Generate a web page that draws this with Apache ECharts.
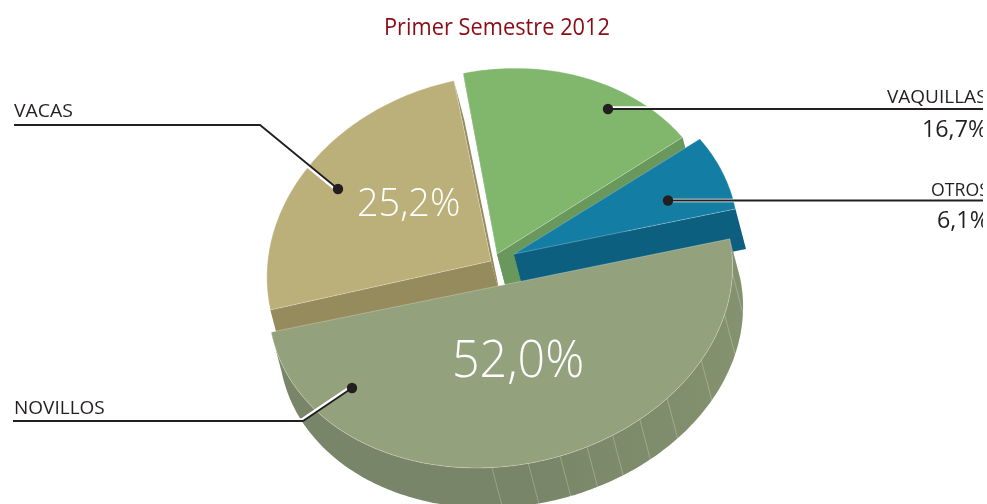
<!DOCTYPE html>
<html>
<head>
<meta charset="utf-8">
<title>Primer Semestre 2012</title>
<script src="https://cdn.jsdelivr.net/npm/echarts@6/dist/echarts.min.js"></script>
<style>
  html, body { margin: 0; padding: 0; background: #fff; }
  #chart { width: 983px; height: 504px; }
</style>
</head>
<body>
<div id="chart"></div>
<script>
const chartTitle = 'Primer Semestre 2012';
const categories = ['NOVILLOS', 'VACAS', 'VAQUILLAS', 'OTROS'];
// printed percentages
const percentages = [52.0, 25.2, 16.7, 6.1];
// share of the circle each slice really takes up in the picture: the source
// draws Novillos as an exact half, so the printed numbers would not fit it
const drawnShares = [50.0, 25.2, 17.9, 6.9];

const fmt = v => v.toFixed(1).replace('.', ',') + '%';

const topColors = ['#93a27c', '#bcb07a', '#81b66d', '#147da4'];
const wallColors = ['#7d8b6c', '#958b5d', '#68985b', '#0d5f7f'];
const apex = [[500.5, 285.5], [491, 261], [497, 254], [514, 254]];
const radii = [[234, 180], [226, 184], [226, 184], [226, 180]];
const tilts = [-11.5, -12.5, -11.5, -11.5];
const layers = [6, 2, 2, 4];
const depth = [10.5, 40];
// where the thin facet lines sit on the big slice's wall, in degrees
const facets = [11, 24, 39, 53, 62, 70, 77, 84, 92, 101];

function rim(i, deg) {
  const t = deg * Math.PI / 180;
  const tilt = tilts[i] * Math.PI / 180;
  const x = radii[i][0] * Math.cos(t);
  const y = radii[i][1] * Math.sin(t);
  return [
    apex[i][0] + x * Math.cos(tilt) - y * Math.sin(tilt),
    apex[i][1] + x * Math.sin(tilt) + y * Math.cos(tilt)
  ];
}

function shift(p) {
  return [p[0] + depth[0], p[1] + depth[1]];
}

function arc(i, from, to) {
  const pts = [];
  const steps = Math.ceil(to - from);
  for (let k = 0; k <= steps; k++) {
    pts.push(rim(i, from + (to - from) * k / steps));
  }
  return pts;
}

function renderSlice(params, api) {
  const i = params.dataIndex;
  let from = 0;
  for (let k = 0; k < i; k++) from += drawnShares[k] * 3.6;
  const to = from + api.value(0) * 3.6;
  const children = [];
  const edge = arc(i, from, to);
  const z = layers[i];

  if (i === 0) {
    // outer wall of the big slice with its facet lines
    children.push({
      type: 'polygon',
      z2: z,
      shape: { points: edge.concat(edge.map(shift).reverse()) },
      style: {
        fill: new echarts.graphic.LinearGradient(0, 0, 1, 0, [
          { offset: 0, color: '#788568' },
          { offset: 0.55, color: '#788568' },
          { offset: 1, color: '#84926f' }
        ])
      }
    });
    facets.forEach(d => {
      const p = rim(i, d);
      const q = shift(p);
      children.push({
        type: 'line',
        z2: z,
        shape: { x1: p[0], y1: p[1], x2: q[0], y2: q[1] },
        style: { stroke: 'rgba(255,255,255,0.3)', lineWidth: 0.8 }
      });
    });
  } else {
    // cut faces seen along the radial edges
    [from, to].forEach(d => {
      const p = rim(i, d);
      children.push({
        type: 'polygon',
        z2: i === 2 ? z - 1 : z,
        shape: { points: [apex[i], p, shift(p), shift(apex[i])] },
        style: { fill: wallColors[i] }
      });
    });
  }

  children.push({
    type: 'polygon',
    z2: z + 1,
    shape: { points: [apex[i]].concat(edge) },
    style: { fill: topColors[i], stroke: 'rgba(255,255,255,0.45)', lineWidth: 0.6 }
  });
  return { type: 'group', children };
}

// leader lines: polyline from the label to the dot, white halo offset
const leaders = [
  { pts: [[13, 421], [303, 421], [352, 388]], halo: [-1, -1] },
  { pts: [[14, 125], [260, 125], [338, 189]], halo: [-1, 1] },
  { pts: [[983, 109], [608, 109]], halo: [0, -1] },
  { pts: [[983, 200.5], [668, 200.5]], halo: [0, 0] }
];

const labelFont = '"Open Sans", "Noto Sans", sans-serif';
const ink = '#231f20';

function text(str, x, y, size, color, squeeze, weight) {
  return {
    type: 'text',
    z: 20,
    silent: true,
    x, y,
    scaleX: squeeze || 1,
    style: {
      text: str,
      fill: color, font: (weight || 400) + ' ' + size + 'px ' + labelFont,
      textAlign: 'left', textVerticalAlign: 'middle'
    }
  };
}

const graphics = [];
leaders.forEach(l => {
  graphics.push({
    type: 'polyline', z: 10, silent: true,
    shape: { points: l.pts.map(p => [p[0] + l.halo[0], p[1] + l.halo[1]]) },
    style: { stroke: '#fff', lineWidth: 3.6, fill: null }
  });
});
leaders.forEach(l => {
  const end = l.pts[l.pts.length - 1];
  graphics.push({
    type: 'polyline', z: 11, silent: true,
    shape: { points: l.pts },
    style: { stroke: ink, lineWidth: 1.8, fill: null }
  });
  graphics.push({
    type: 'circle', z: 12, silent: true,
    shape: { cx: end[0], cy: end[1], r: 5.2 },
    style: { fill: ink }
  });
});

graphics.push(text(chartTitle, 384, 28, 24.5, '#8b0c14', 0.89));
graphics.push(text(categories[1], 14, 112, 19, ink, 1.02));
graphics.push(text(categories[0], 14, 409, 19, ink));
graphics.push(text(categories[2], 887, 98, 19, ink));
graphics.push(text(categories[3], 931, 191, 19, ink, 0.93));
graphics.push(text(fmt(percentages[2]), 922, 130, 24, ink, 0.97));
graphics.push(text(fmt(percentages[3]), 937, 221, 24, ink, 0.97));
graphics.push(text(fmt(percentages[1]), 357, 205, 39, '#fff', 0.97, 300));
graphics.push(text(fmt(percentages[0]), 452, 362, 52, '#fff', 0.93, 300));

const chart = echarts.init(document.getElementById('chart'), null, { renderer: 'canvas' });
chart.setOption({
  animation: false,
  backgroundColor: '#fff',
  graphic: graphics,
  series: [{
    type: 'custom',
    coordinateSystem: 'none',
    silent: true,
    renderItem: renderSlice,
    data: drawnShares.map((v, i) => ({ name: categories[i], value: [v] }))
  }]
});
</script>
</body>
</html>
